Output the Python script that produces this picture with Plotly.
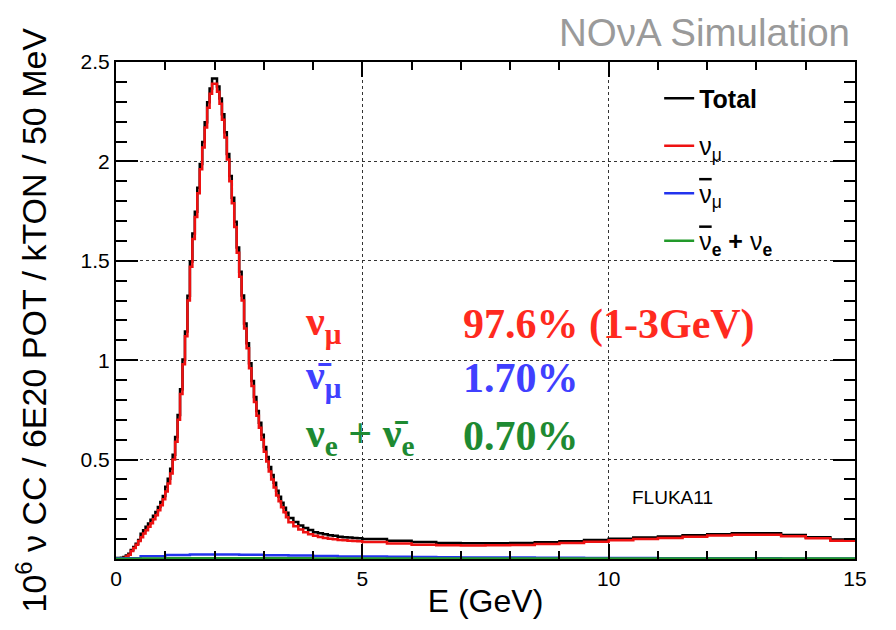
import numpy as np
import plotly.graph_objects as go

# Bin layout (GeV): 50 MeV bins through the peak, coarser bins in the tail
E_MAX = 15.0
FINE_EDGES = np.round(np.concatenate([
    np.linspace(0.0, 3.5, 70, endpoint=False),
    np.linspace(3.5, 5.0, 15, endpoint=False),
    np.linspace(5.0, 15.0, 20, endpoint=False),
]), 3)
COARSE_EDGES = np.round(np.linspace(0.0, 15.0, 30, endpoint=False), 3)

# nu_mu CC events per 50 MeV (10^6 / 6E20 POT / kTON)
NUMU = [
    # 0 - 1 GeV
    0.0, 0.0, 0.001, 0.005, 0.012, 0.022, 0.04, 0.055, 0.072, 0.09,
    0.11, 0.128, 0.145, 0.162, 0.18, 0.20, 0.22, 0.245, 0.27, 0.30,
    # 1 - 3.5 GeV
    0.34, 0.38, 0.43, 0.50, 0.59, 0.70, 0.83, 0.98, 1.12, 1.30,
    1.47, 1.61, 1.72, 1.84, 1.96, 2.07, 2.17, 2.27, 2.34, 2.39,
    2.39, 2.35, 2.29, 2.21, 2.12, 2.01, 1.90, 1.79, 1.67, 1.54,
    1.42, 1.30, 1.16, 1.06, 0.96, 0.87, 0.79, 0.72, 0.66, 0.60,
    0.54, 0.49, 0.44, 0.40, 0.36, 0.32, 0.29, 0.26, 0.235, 0.21,
    # 3.5 - 5 GeV
    0.185, 0.165, 0.148, 0.135, 0.125, 0.117, 0.111, 0.106, 0.102, 0.099,
    0.096, 0.094, 0.092, 0.090, 0.089,
    # 5 - 15 GeV
    0.086, 0.078, 0.072, 0.069, 0.068, 0.069, 0.071, 0.075, 0.080, 0.087,
    0.094, 0.100, 0.106, 0.112, 0.118, 0.122, 0.122, 0.115, 0.104, 0.092,
]

# anti nu_mu and (nu_e + anti nu_e), 0.5 GeV steps
NUMUBAR = [
    0.004, 0.014, 0.020, 0.023, 0.023, 0.021, 0.019, 0.017, 0.015, 0.013,
    0.012, 0.011, 0.010, 0.009, 0.008, 0.007, 0.007, 0.006, 0.006, 0.005,
    0.005, 0.005, 0.004, 0.004, 0.004, 0.004, 0.004, 0.003, 0.003, 0.003,
]
NUE = [
    0.001, 0.003, 0.004, 0.004, 0.004, 0.004, 0.004, 0.004, 0.003, 0.003,
    0.003, 0.003, 0.003, 0.003, 0.003, 0.003, 0.003, 0.003, 0.003, 0.003,
    0.003, 0.003, 0.003, 0.003, 0.003, 0.003, 0.003, 0.003, 0.003, 0.003,
]

Y_TICKS = [0.5, 1, 1.5, 2, 2.5]
Y_TICK_TEXT = ["0.5", "1", "1.5", "2", "2.5"]

SANS = "Liberation Sans"
SERIF = "Liberation Serif"
NUBAR = '<span style="text-decoration:overline">ν</span>'  # legend
NUBAR_SERIF = "ν\u0304"                                      # big labels


def to_fine(coarse_vals):
    """Map 0.5 GeV step values onto the fine bins (no interpolation)."""
    idx = np.searchsorted(COARSE_EDGES, FINE_EDGES, side="right") - 1
    return np.asarray(coarse_vals)[idx]


def step_trace(edges, vals, name, color):
    x = list(edges) + [E_MAX]
    y = list(vals) + [vals[-1]]
    return go.Scatter(
        x=x, y=y, mode="lines", name=name,
        line=dict(color=color, width=2.5, shape="hv"),
        legendgroup=name, hoverinfo="skip",
    )


def build_figure():
    total = np.asarray(NUMU) + to_fine(NUMUBAR) + to_fine(NUE)

    fig = go.Figure()
    fig.add_trace(step_trace(FINE_EDGES, total, "<b>Total</b>", "black"))
    fig.add_trace(step_trace(FINE_EDGES, NUMU, "ν<sub>μ</sub>", "#ee1111"))
    fig.add_trace(step_trace(COARSE_EDGES, NUMUBAR, NUBAR + "<sub>μ</sub>", "#2233ee"))
    fig.add_trace(step_trace(COARSE_EDGES, NUE,
                             NUBAR + "<sub><b>e</b></sub> <b>+</b> ν<sub><b>e</b></sub>",
                             "#22992a"))

    # big coloured fractions in the middle of the plot
    notes = [
        (3.8, 1.18, "ν<sub>μ</sub>", "#ff2a1f"),
        (7.0, 1.18, "97.6% (1-3GeV)", "#ff2a1f"),
        (3.8, 0.91, NUBAR_SERIF + "<sub>μ</sub>", "#4040ff"),
        (7.0, 0.91, "1.70%", "#4040ff"),
        (3.8, 0.62, "ν<sub>e</sub> + " + NUBAR_SERIF + "<sub>e</sub>", "#1e8a32"),
        (7.0, 0.62, "0.70%", "#1e8a32"),
    ]
    for x, y, txt, col in notes:
        fig.add_annotation(
            x=x, y=y, xref="x", yref="y", text=f"<b>{txt}</b>",
            showarrow=False, xanchor="left", yanchor="middle",
            font=dict(family=SERIF, size=42, color=col),
        )

    fig.add_annotation(
        x=11.3, y=0.31, xref="x", yref="y", text="FLUKA11", showarrow=False,
        font=dict(family=SANS, size=19, color="black"),
    )
    fig.add_annotation(
        x=1.0, y=1.0, xref="paper", yref="paper", xshift=-3, yshift=30,
        text="NOνA Simulation", showarrow=False,
        xanchor="right", yanchor="middle",
        font=dict(family=SANS, size=38.5, color="#9a9a9a"),
    )
    # y title, placed by hand so it sits a little below centre like ROOT does
    fig.add_annotation(
        x=0, y=0.5, xref="paper", yref="paper", xshift=-85, yshift=-10,
        text="10<sup>6</sup> ν CC / 6E20 POT / kTON / 50 MeV",
        textangle=-90, showarrow=False, xanchor="center", yanchor="middle",
        font=dict(family=SANS, size=34, color="black"),
    )

    axis_common = dict(
        showline=True, linecolor="black", linewidth=2, mirror="ticks",
        ticks="inside", tickcolor="black", tickwidth=1.5,
        showgrid=True, gridcolor="#333333", griddash="dot", gridwidth=1,
        zeroline=False, automargin=False,
        tickfont=dict(family=SANS, size=21, color="black"),
    )

    # the page body adds 8px at top/left, so the margins are trimmed for it
    fig.update_layout(
        width=896, height=630,
        margin=dict(l=108, r=49, t=54, b=79),
        plot_bgcolor="white", paper_bgcolor="white",
        showlegend=True,
        legend=dict(
            x=0.735, y=0.973, xanchor="left", yanchor="top",
            bgcolor="rgba(0,0,0,0)", tracegroupgap=12,
            font=dict(family=SANS, size=25, color="black"),
        ),
        xaxis=dict(
            range=[0, 15], tick0=0, dtick=5, ticklen=15,
            minor=dict(dtick=1, tick0=0, ticklen=8, ticks="inside",
                       tickcolor="black", showgrid=False),
            title=dict(text="E (GeV)", standoff=0,
                       font=dict(family=SANS, size=32, color="black")),
            **axis_common,
        ),
        yaxis=dict(
            range=[0, 2.5], tickmode="array", tickvals=Y_TICKS,
            ticktext=Y_TICK_TEXT, ticklen=22,
            minor=dict(tickmode="linear", dtick=0.1, tick0=0, ticklen=11,
                       ticks="inside", tickcolor="black", showgrid=False),
            **axis_common,
        ),
    )
    return fig


def main():
    fig = build_figure()
    fig.write_html("out.html")


if __name__ == "__main__":
    main()
